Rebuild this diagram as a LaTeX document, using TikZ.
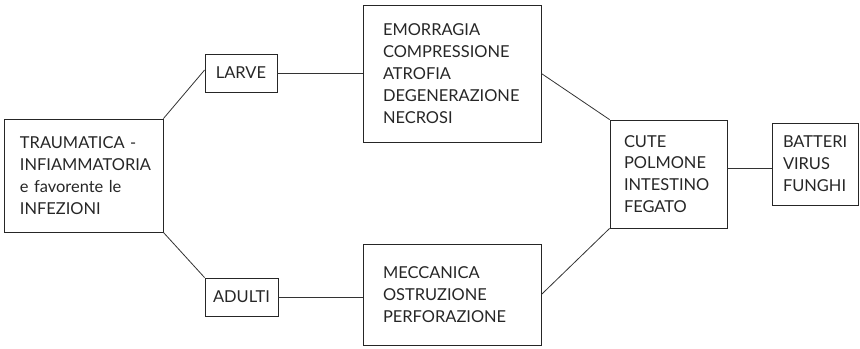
\documentclass[tikz,border=0pt]{standalone}
\usepackage{fontspec}
\setmainfont{Lato}
\begin{document}
\begin{tikzpicture}[x=1bp,y=-1bp,
  font=\fontsize{16.5}{22}\selectfont,
  box/.style={draw=black!85, line width=0.8bp, inner ysep=0pt, align=left, text=black!85},
  small/.style={draw=black!85, line width=0.8bp, inner sep=0pt, align=center, text=black!85},
  conn/.style={draw=black!80, line width=0.8bp}]
\useasboundingbox (0,0) rectangle (860,348);
\node[box, minimum height=113bp, inner xsep=16bp, text width=127bp] (tr) at (83.5,175.5)
  {TRAUMATICA -\\INFIAMMATORIA\\e favorente le\\INFEZIONI};
\node[small, minimum width=72bp, minimum height=38bp] (larve) at (241,73) {LARVE};
\node[small, minimum width=73bp, minimum height=38bp] (adulti) at (241.5,297) {ADULTI};
\node[box, minimum height=137bp, inner xsep=20bp, text width=138bp] (emo) at (452,73.5)
  {EMORRAGIA\\COMPRESSIONE\\ATROFIA\\DEGENERAZIONE\\NECROSI};
\node[box, minimum height=101bp, inner xsep=20bp, text width=138bp] (mec) at (452,294.5)
  {MECCANICA\\OSTRUZIONE\\PERFORAZIONE};
\node[box, minimum height=108bp, inner xsep=14bp, text width=89bp] (cute) at (668.5,174)
  {CUTE\\POLMONE\\INTESTINO\\FEGATO};
\node[box, minimum height=82bp, inner xsep=11bp, text width=64bp] (batt) at (815,164)
  {BATTERI\\VIRUS\\FUNGHI};
\draw[conn] (tr.north east) -- ([yshift=3bp]larve.west);
\draw[conn] (tr.south east) -- (adulti.north west);
\draw[conn] (larve.east) -- (larve.east -| emo.west);
\draw[conn] (adulti.east) -- (adulti.east -| mec.west);
\draw[conn] (emo.east) -- (cute.north west);
\draw[conn] (mec.east) -- (cute.south west);
\coordinate (bw) at ([yshift=-4bp]batt.west);
\draw[conn] (bw) -- (bw -| cute.east);
\end{tikzpicture}
\end{document}
